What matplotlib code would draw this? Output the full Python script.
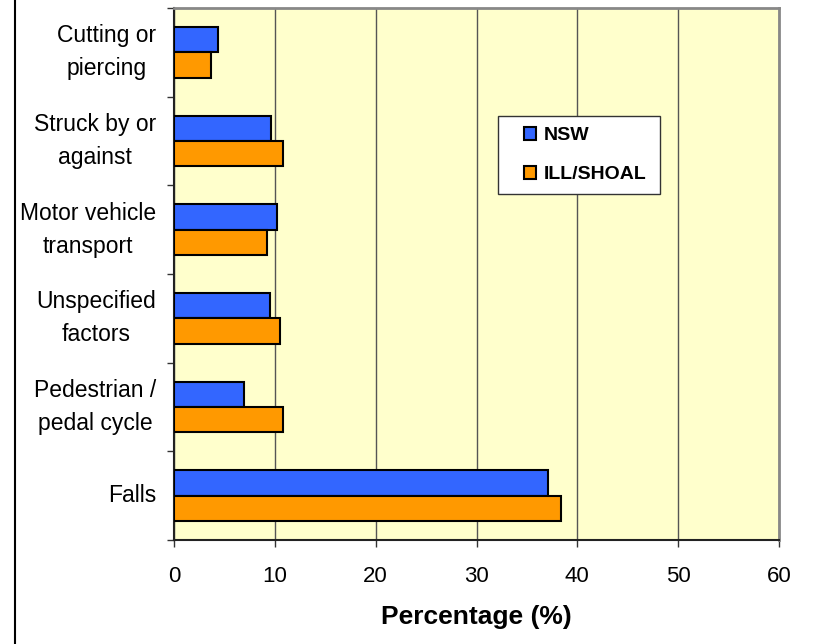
import numpy as np
import matplotlib.pyplot as plt
from matplotlib.lines import Line2D
from matplotlib.patches import Rectangle
from matplotlib.container import BarContainer
from matplotlib.legend_handler import HandlerPatch

plt.rcParams['font.family'] = ['Liberation Sans', 'DejaVu Sans']

# Injury mechanism, listed from top to bottom
categories = ["Cutting or\npiercing", "Struck by or\nagainst", "Motor vehicle\ntransport",
              "Unspecified\nfactors", "Pedestrian /\npedal cycle", "Falls"]
nsw = [4.4, 9.6, 10.2, 9.5, 6.9, 37.1]
ill_shoal = [3.7, 10.8, 9.2, 10.5, 10.8, 38.4]
series_names = ["NSW", "ILL/SHOAL"]


def square_key(legend, orig_handle, xdescent, ydescent, width, height, fontsize):
    # small square pushed to the right end of the handle box
    s = 0.7 * fontsize
    return Rectangle((width - s - xdescent, -ydescent + (height - s) / 2), s * 0.9, s)


def copy_bar_style(legend_patch, container):
    legend_patch.update_from(container.patches[0])


fig = plt.figure(figsize=(8.14, 6.44), dpi=100)
ax = fig.add_axes([0.2138, 0.1615, 0.7432, 0.826])
ax.set_facecolor("#FFFFCC")

n = len(categories)
y = np.arange(n)[::-1] + 0.5
h = 0.285
ax.barh(y + h / 2, nsw, height=h, color="#3366FF", edgecolor="black", linewidth=1.5,
        label=series_names[0], zorder=3)
ax.barh(y - h / 2, ill_shoal, height=h, color="#FF9900", edgecolor="black", linewidth=1.5,
        label=series_names[1], zorder=3)

ax.set_xlim(0, 60)
ax.set_ylim(0, n)
ax.set_xticks(np.arange(0, 61, 10))
ax.tick_params(axis="x", labelsize=16, length=5, width=1, direction="out", pad=14, color="#333333")
ax.set_yticks(np.arange(0, n + 1))
ax.set_yticklabels([])
ax.set_yticks(y, minor=True)
ax.set_yticklabels(categories, minor=True, fontsize=16.5, linespacing=1.55, multialignment="center")
for lab in ax.get_yticklabels(minor=True):
    lab.set_verticalalignment("center")
ax.tick_params(axis="y", which="major", length=5, width=1, direction="out", color="#333333")
ax.tick_params(axis="y", which="minor", length=0, pad=13)

ax.grid(axis="x", color="#555555", linewidth=1, zorder=0)
ax.set_axisbelow(True)

ax.spines["left"].set_color("#222222")
ax.spines["bottom"].set_color("#222222")
ax.spines["left"].set_linewidth(1.5)
ax.spines["bottom"].set_linewidth(1.5)
ax.spines["top"].set_color("#888888")
ax.spines["right"].set_color("#888888")
ax.spines["top"].set_linewidth(2)
ax.spines["right"].set_linewidth(2)

ax.set_xlabel("Percentage (%)", fontsize=19, fontweight="bold", labelpad=13)

leg = ax.legend(loc="upper left", bbox_to_anchor=(0.536, 0.797, 0.267, 0.0), mode="expand",
                fancybox=False, framealpha=1, edgecolor="#333333",
                prop={"weight": "bold", "size": 14}, handlelength=1.45, handleheight=0.7,
                handletextpad=0.35, labelspacing=1.1, borderpad=0.55, borderaxespad=0,
                handler_map={BarContainer: HandlerPatch(patch_func=square_key,
                                                        update_func=copy_bar_style)})
leg.get_frame().set_linewidth(1)
leg.set_zorder(5)

# Frame line along the left edge of the figure
fig.add_artist(Line2D([15 / 814, 15 / 814], [0, 1], transform=fig.transFigure,
                      color="black", linewidth=1.5))

fig.savefig("out.png", dpi=100)
